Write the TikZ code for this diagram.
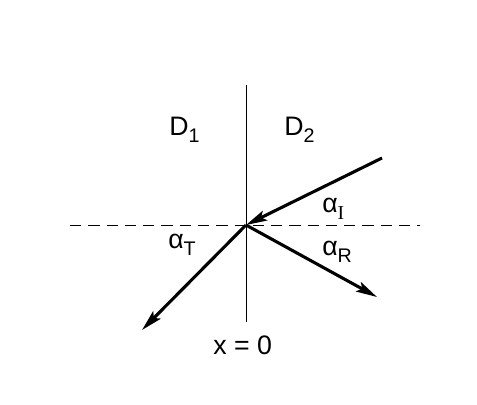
\documentclass[tikz,border=0pt]{standalone}
\usepackage{fontspec}
\setmainfont{Liberation Sans}
\newfontfamily\subserif{Liberation Serif}
\usetikzlibrary{arrows.meta}
\newcommand\lowsub[1]{\raisebox{-0.55ex}{\fontsize{14}{14}\selectfont #1}}

\begin{document}
\begin{tikzpicture}[x=0.025cm,y=-0.025cm]
\tikzstyle{label}=[inner sep=0pt,anchor=base west,font=\fontsize{19}{19}\selectfont]
\tikzstyle{ray}=[line width=2.2pt,-{Stealth[length=15pt,width=7.5pt,inset=3pt]}]
\tikzstyle{boundary}=[line width=0.5pt]
\tikzstyle{normal}=[line width=0.6pt,dash pattern=on 8pt off 5pt]
\useasboundingbox (0,0) rectangle (477,404);
% interface and normal
\coordinate (O) at (246,225);
\coordinate (top) at (246,85);
\coordinate (bottom) at (246,322);
\coordinate (left) at (70,225);
\coordinate (right) at (420,225);
\draw[boundary] (top) -- (bottom);
\draw[normal] (left) -- (right);
% rays
\coordinate (inc) at (382,158);
\coordinate (refl) at (377,297);
\coordinate (trans) at (142,330);
\draw[ray] (inc) -- (O);
\draw[ray] (O) -- (refl);
\draw[ray] (O) -- (trans);
% labels
\node[label] (d1) at (169,135) {D\lowsub{1}};
\node[label] (d2) at (284,135) {D\lowsub{2}};
\node[label] (ai) at (322,212) {α\lowsub{\subserif I}};
\node[label] (at) at (168,248) {α\lowsub{T}};
\node[label] (ar) at (322,255) {α\lowsub{R}};
\node[label] (x0) at (213,354) {x = 0};
\end{tikzpicture}
\end{document}
